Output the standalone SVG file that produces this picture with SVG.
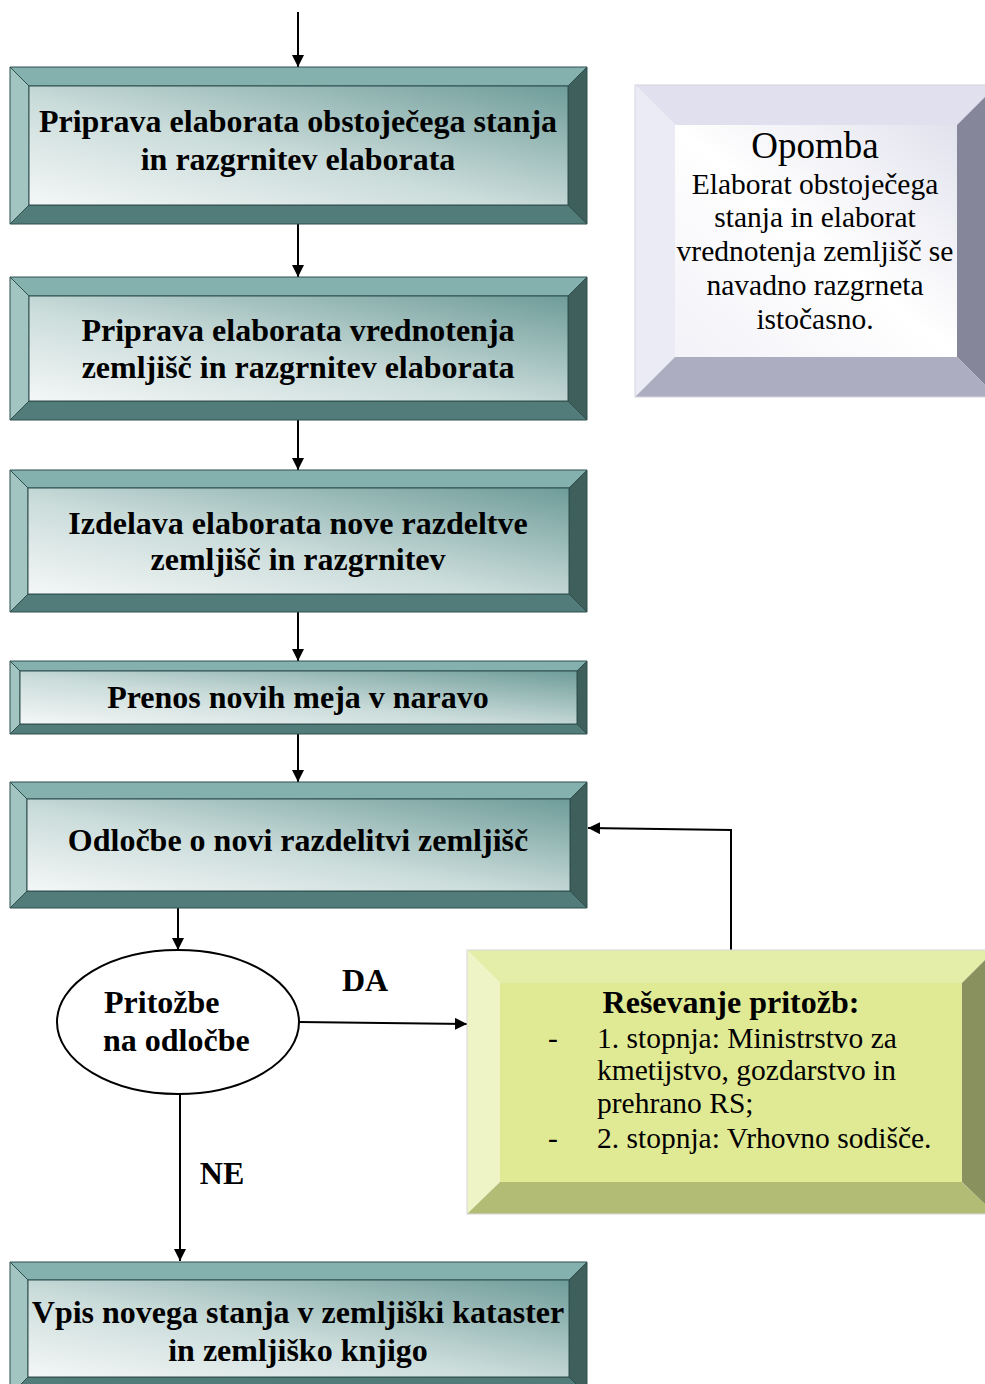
<svg xmlns="http://www.w3.org/2000/svg" width="985" height="1384" viewBox="0 0 985 1384">
<defs>
<linearGradient id="tealIn" x1="0" y1="1" x2="1" y2="0">
<stop offset="0" stop-color="#F4F7F7"/>
<stop offset="0.45" stop-color="#CADCDA"/>
<stop offset="1" stop-color="#6E9C99"/>
</linearGradient>
<linearGradient id="noteIn" x1="0" y1="1" x2="1" y2="0">
<stop offset="0" stop-color="#F2F2F8"/>
<stop offset="0.5" stop-color="#FFFFFF"/>
<stop offset="1" stop-color="#E2E2EE"/>
</linearGradient>
<marker id="arr" viewBox="0 0 10 10" refX="10" refY="5" markerWidth="6" markerHeight="6" markerUnits="strokeWidth" orient="auto">
<path d="M0,0 L10,5 L0,10 z" fill="#000"/>
</marker>
</defs>
<style>
.tt{fill:#84B0AE;stroke:#2F4F4F;stroke-width:1}
.tl{fill:#A2C5C2;stroke:#2F4F4F;stroke-width:1}
.tr{fill:#3E5F5C;stroke:#2F4F4F;stroke-width:1}
.tb{fill:#527C79;stroke:#2F4F4F;stroke-width:1}
.ti{fill:url(#tealIn);stroke:#2F4F4F;stroke-width:1}
.nt{fill:#E0E0EE}.nl{fill:#EBEBF5}.nr{fill:#86869A}.nb{fill:#ADADC1}.ni{fill:url(#noteIn)}
.gt{fill:#E4EEA8}.gl{fill:#EEF4C6}.gr{fill:#89925F}.gb{fill:#B2BC74}.gi{fill:#E0EA94}
.bord{fill:none;stroke:#D6D6DE;stroke-width:1}
.h{font-family:"Liberation Serif","Times New Roman",serif;font-weight:bold;font-size:32px;fill:#000;text-anchor:middle}
.n{font-family:"Liberation Serif","Times New Roman",serif;font-size:29.5px;fill:#000}
.c{fill:none;stroke:#000;stroke-width:2}
</style>

<g id="connectors">
<line class="c" x1="298" y1="12" x2="298" y2="67" marker-end="url(#arr)"/>
<line class="c" x1="298" y1="224" x2="298" y2="277" marker-end="url(#arr)"/>
<line class="c" x1="298" y1="420" x2="298" y2="470" marker-end="url(#arr)"/>
<line class="c" x1="298" y1="612" x2="298" y2="661" marker-end="url(#arr)"/>
<line class="c" x1="298" y1="734" x2="298" y2="782" marker-end="url(#arr)"/>
<line class="c" x1="178" y1="908" x2="178" y2="950" marker-end="url(#arr)"/>
<line class="c" x1="299" y1="1022" x2="467" y2="1024" marker-end="url(#arr)"/>
<line class="c" x1="180" y1="1095" x2="180" y2="1261" marker-end="url(#arr)"/>
<polyline class="c" points="731,950 731,830 588,828" marker-end="url(#arr)"/>
</g>

<g id="box1">
<polygon class="tt" points="10,67 587,67 568,86 29,86"/>
<polygon class="tl" points="10,67 29,86 29,205 10,224"/>
<polygon class="tr" points="587,67 587,224 568,205 568,86"/>
<polygon class="tb" points="10,224 29,205 568,205 587,224"/>
<rect class="ti" x="29" y="86" width="539" height="119"/>
<text class="h" x="298" y="132">Priprava elaborata obstoječega stanja</text>
<text class="h" x="298" y="170">in razgrnitev elaborata</text>
</g>

<g id="box2">
<polygon class="tt" points="10,277 587,277 568,296 29,296"/>
<polygon class="tl" points="10,277 29,296 29,401 10,420"/>
<polygon class="tr" points="587,277 587,420 568,401 568,296"/>
<polygon class="tb" points="10,420 29,401 568,401 587,420"/>
<rect class="ti" x="29" y="296" width="539" height="105"/>
<text class="h" x="298" y="341">Priprava elaborata vrednotenja</text>
<text class="h" x="298" y="378">zemljišč in razgrnitev elaborata</text>
</g>

<g id="box3">
<polygon class="tt" points="10,470 587,470 569,488 28,488"/>
<polygon class="tl" points="10,470 28,488 28,594 10,612"/>
<polygon class="tr" points="587,470 587,612 569,594 569,488"/>
<polygon class="tb" points="10,612 28,594 569,594 587,612"/>
<rect class="ti" x="28" y="488" width="541" height="106"/>
<text class="h" x="298" y="534">Izdelava elaborata nove razdeltve</text>
<text class="h" x="298" y="570">zemljišč in razgrnitev</text>
</g>

<g id="box4">
<polygon class="tt" points="10,661 587,661 577,671 20,671"/>
<polygon class="tl" points="10,661 20,671 20,724 10,734"/>
<polygon class="tr" points="587,661 587,734 577,724 577,671"/>
<polygon class="tb" points="10,734 20,724 577,724 587,734"/>
<rect class="ti" x="20" y="671" width="557" height="53"/>
<text class="h" x="298" y="708">Prenos novih meja v naravo</text>
</g>

<g id="box5">
<polygon class="tt" points="10,782 587,782 570,799 27,799"/>
<polygon class="tl" points="10,782 27,799 27,891 10,908"/>
<polygon class="tr" points="587,782 587,908 570,891 570,799"/>
<polygon class="tb" points="10,908 27,891 570,891 587,908"/>
<rect class="ti" x="27" y="799" width="543" height="92"/>
<text class="h" x="298" y="851">Odločbe o novi razdelitvi zemljišč</text>
</g>

<g id="decision">
<ellipse cx="178" cy="1022" rx="121" ry="72" fill="#FFFFFF" stroke="#000" stroke-width="2"/>
<text class="h" x="104" y="1013" style="text-anchor:start">Pritožbe</text>
<text class="h" x="103" y="1051" style="text-anchor:start">na odločbe</text>
</g>

<g id="labels">
<text class="h" x="365" y="991">DA</text>
<text class="h" x="222" y="1184">NE</text>
</g>

<g id="box6">
<polygon class="tt" points="10,1262 587,1262 569,1280 28,1280"/>
<polygon class="tl" points="10,1262 28,1280 28,1377 10,1395"/>
<polygon class="tr" points="587,1262 587,1395 569,1377 569,1280"/>
<polygon class="tb" points="10,1395 28,1377 569,1377 587,1395"/>
<rect class="ti" x="28" y="1280" width="541" height="97"/>
<text class="h" x="298" y="1323">Vpis novega stanja v zemljiški kataster</text>
<text class="h" x="298" y="1361">in zemljiško knjigo</text>
</g>

<g id="note">
<polygon class="nt" points="635,85 997,85 957,125 675,125"/>
<polygon class="nl" points="635,85 675,125 675,357 635,397"/>
<polygon class="nr" points="997,85 997,397 957,357 957,125"/>
<polygon class="nb" points="635,397 675,357 957,357 997,397"/>
<rect class="ni" x="675" y="125" width="282" height="232"/>
<rect class="bord" x="635" y="85" width="362" height="312"/>
<text class="n" x="815" y="158" style="font-size:37px;text-anchor:middle">Opomba</text>
<text class="n" x="815" y="194" text-anchor="middle">Elaborat obstoječega</text>
<text class="n" x="815" y="227" text-anchor="middle">stanja in elaborat</text>
<text class="n" x="815" y="261" text-anchor="middle">vrednotenja zemljišč se</text>
<text class="n" x="815" y="295" text-anchor="middle">navadno razgrneta</text>
<text class="n" x="815" y="329" text-anchor="middle">istočasno.</text>
</g>

<g id="appeals">
<polygon class="gt" points="467,950 995,950 962,983 500,983"/>
<polygon class="gl" points="467,950 500,983 500,1182 467,1214"/>
<polygon class="gr" points="995,950 995,1214 962,1182 962,983"/>
<polygon class="gb" points="467,1214 500,1182 962,1182 995,1214"/>
<rect class="gi" x="500" y="983" width="462" height="199"/>
<rect class="bord" x="467" y="950" width="528" height="264"/>
<text class="h" x="731" y="1013">Reševanje pritožb:</text>
<text class="n" x="548" y="1048">-</text>
<text class="n" x="597" y="1048">1. stopnja: Ministrstvo za</text>
<text class="n" x="597" y="1080">kmetijstvo, gozdarstvo in</text>
<text class="n" x="597" y="1113">prehrano RS;</text>
<text class="n" x="548" y="1148">-</text>
<text class="n" x="597" y="1148">2. stopnja: Vrhovno sodišče.</text>
</g>
</svg>
